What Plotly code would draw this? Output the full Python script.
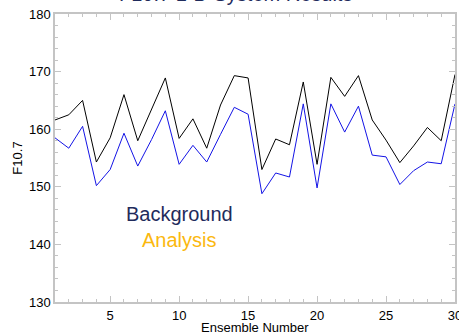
import plotly.graph_objects as go

# Ensemble members and F10.7 values for each member
ensemble = list(range(1, 31))
background = [161.6, 162.5, 165.0, 154.3, 158.5, 166.0, 158.0, 163.5, 168.9, 158.4,
              161.8, 156.7, 164.2, 169.3, 168.9, 153.0, 158.3, 157.3, 168.2, 153.9,
              169.0, 165.7, 169.3, 161.6, 158.1, 154.2, 157.1, 160.3, 158.0, 169.5]
analysis = [158.5, 156.7, 160.5, 150.2, 153.0, 159.3, 153.6, 158.2, 163.2, 153.9,
            157.2, 154.3, 159.1, 163.8, 162.6, 148.8, 152.4, 151.7, 164.4, 149.8,
            164.4, 159.5, 164.0, 155.5, 155.2, 150.4, 152.8, 154.3, 154.0, 164.4]

NAVY = "#1f2b5c"
GOLD = "#fbb80f"
AXIS = "#c4c4c4"
FONT = "Liberation Sans, Arial, sans-serif"

fig = go.Figure()
fig.add_trace(go.Scatter(x=ensemble, y=background, mode="lines",
                         line=dict(color="black", width=1), name="Background"))
fig.add_trace(go.Scatter(x=ensemble, y=analysis, mode="lines",
                         line=dict(color="#1414e6", width=1), name="Analysis"))

axis_common = dict(
    showline=True, linecolor=AXIS, linewidth=1.5, mirror="ticks",
    ticks="inside", ticklen=6, tickcolor=AXIS, tickwidth=1,
    showgrid=False, zeroline=False, ticklabeloverflow="allow", automargin=False,
    tickfont=dict(family=FONT, size=13, color="black"),
)

fig.update_xaxes(
    range=[1, 30], tickvals=[5, 10, 15, 20, 25, 30], ticklabelstandoff=1,
    minor=dict(ticks="inside", ticklen=3, tickcolor=AXIS, dtick=1, tick0=0, showgrid=False),
    **axis_common,
)
fig.update_yaxes(
    range=[130, 180], dtick=10, tick0=130,
    minor=dict(ticks="inside", ticklen=3, tickcolor=AXIS, dtick=2, showgrid=False),
    title=dict(text="F10.7", font=dict(family=FONT, size=13, color="black"), standoff=3),
    **axis_common,
)

# x-axis title placed just under the tick labels
fig.add_annotation(text="Ensemble Number", xref="paper", yref="paper",
                   x=0.5, y=0, yanchor="middle", yshift=-25.5, showarrow=False,
                   font=dict(family=FONT, size=13, color="black"))

# Title (sits above the plot box) and text legend
fig.add_annotation(text="F10.7 1-D System Results", xref="paper", yref="paper",
                   x=0.45, y=1, yanchor="bottom", yshift=7, showarrow=False,
                   font=dict(family=FONT, size=20, color=NAVY))
fig.add_annotation(text="Background", xref="x", yref="y", x=10.0, y=145.2,
                   showarrow=False, font=dict(family=FONT, size=20, color=NAVY))
fig.add_annotation(text="Analysis", xref="x", yref="y", x=10.0, y=140.8,
                   showarrow=False, font=dict(family=FONT, size=20, color=GOLD))

fig.update_layout(
    width=459, height=334, showlegend=False,
    margin=dict(l=55, r=4, t=14, b=32),
    plot_bgcolor="white", paper_bgcolor="white",
)

fig.write_html("out.html")
